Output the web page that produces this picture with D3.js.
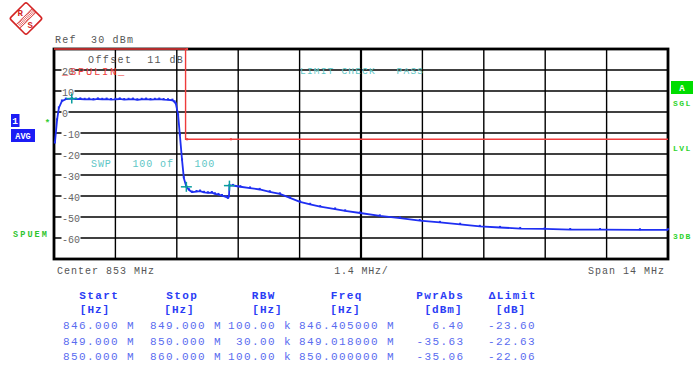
<!DOCTYPE html>
<html><head><meta charset="utf-8">
<script src="https://cdn.jsdelivr.net/npm/d3@7"></script>
<style>
html,body{margin:0;padding:0;background:#fff;}
svg{display:block;}
text{font-family:"Liberation Mono","DejaVu Sans Mono",monospace;white-space:pre;}
</style></head><body>
<svg id="c" width="693" height="367"></svg>
<script>
// ---- data ----
const traceFreq = [846.02, 846.07, 846.11, 846.18, 846.27, 846.405, 846.5, 846.6, 846.7, 846.8, 846.9, 847.0, 847.1, 847.2, 847.3, 847.4, 847.5, 847.6, 847.7, 847.8, 847.9, 848.0, 848.1, 848.2, 848.3, 848.4, 848.5, 848.6, 848.7, 848.75, 848.78, 848.83, 848.87, 848.92, 848.96, 849.018, 849.08, 849.15, 849.25, 849.33, 849.42, 849.51, 849.6, 849.67, 849.75, 849.83, 849.92, 849.97, 849.99, 850.0, 850.08, 850.25, 850.47, 850.69, 850.92, 851.15, 851.38, 851.61, 851.84, 852.07, 852.41, 852.64, 852.98, 853.43, 853.89, 854.34, 854.8, 855.26, 855.71, 856.17, 856.63, 857.19, 857.77, 858.45, 859.36, 860.0];
const traceLevel = [-14.8, -3.8, 1.9, 5.2, 6.1, 6.4, 6.1, 6.2, 6.0, 6.1, 5.9, 6.2, 6.0, 6.1, 5.9, 6.0, 6.2, 5.9, 6.0, 6.1, 5.8, 6.0, 6.1, 5.9, 6.0, 6.1, 5.9, 5.8, 5.6, 4.8, 3.8, -1.4, -11.0, -22.9, -31.4, -35.63, -37.1, -38.2, -37.9, -37.7, -38.3, -38.5, -38.4, -39.0, -39.3, -39.8, -40.4, -41.0, -40.2, -35.06, -35.0, -35.6, -36.2, -36.9, -38.0, -39.0, -40.9, -42.8, -44.0, -45.1, -46.2, -47.1, -48.1, -49.5, -50.5, -51.7, -52.6, -53.5, -54.5, -55.0, -55.5, -55.7, -56.0, -56.0, -56.1, -56.1];
const limitFreq = [846, 849, 849, 850, 860];
const limitLevel = [30, 30, -13, -13, -13];
const markerFreq = [846.405, 849.018, 850.0];
const markerLevel = [6.40, -35.63, -35.06];
const yTickValues = [20, 10, 0, -10, -20, -30, -40, -50, -60];
const yTickLabels = ["20", "10", "0", "-10", "-20", "-30", "-40", "-50", "-60"];
const tableHeaders = ["Start", "Stop", "RBW", "Freq", "PwrAbs", "\u0394Limit"];
const tableUnits = ["[Hz]", "[Hz]", "[Hz]", "[Hz]", "[dBm]", "[dB]"];
const tableStart = ["846.000 M", "849.000 M", "850.000 M"];
const tableStop = ["849.000 M", "850.000 M", "860.000 M"];
const tableRbw = ["100.00 k", "30.00 k", "100.00 k"];
const tableFreq = ["846.405000 M", "849.018000 M", "850.000000 M"];
const tablePwr = ["6.40", "-35.63", "-35.06"];
const tableDelta = ["-23.60", "-22.63", "-22.06"];

// ---- layout ----
const svg = d3.select("#c");
const L = 54, R = 668, TOP = 49, BOT = 259;
const x = d3.scaleLinear().domain([846, 860]).range([L, R]);
const y = d3.scaleLinear().domain([-70, 30]).range([BOT, TOP]);

function T(g, tx, ty, s, o = {}) {
  const size = o.size || 10, pitch = o.pitch || size * 0.6;
  const n = [...s].length;
  const w = (n - 1) * pitch + size * 0.6;
  let x0 = tx;
  if (o.anchor === "middle") x0 = tx - w / 2;
  else if (o.anchor === "end") x0 = tx - w;
  return g.append("text").attr("x", x0).attr("y", ty).attr("font-size", size)
    .attr("letter-spacing", (pitch - size * 0.6).toFixed(2))
    .attr("fill", o.fill || "#555").attr("font-weight", o.weight || "normal").text(s);
}

// R&S logo
const logo = svg.append("g").attr("transform", "translate(26,18.5) rotate(45)");
logo.append("rect").attr("x", -11.6).attr("y", -11.6).attr("width", 23.2).attr("height", 23.2)
  .attr("rx", 2).attr("fill", "#fff").attr("stroke", "#d42424").attr("stroke-width", 1.6);
logo.append("rect").attr("x", -2.6).attr("y", -11.6).attr("width", 5.2).attr("height", 23.2)
  .attr("fill", "none").attr("stroke", "#d42424").attr("stroke-width", 0.8);
for (let k = -10; k <= 10; k += 1.6) {
  logo.append("line").attr("x1", -2.6).attr("x2", 2.6).attr("y1", k).attr("y2", k)
    .attr("stroke", "#d42424").attr("stroke-width", 0.7);
}
svg.append("text").attr("x", 17.5).attr("y", 16).attr("font-size", 9).attr("font-weight", "bold")
  .attr("fill", "#d42424").attr("font-family", "Liberation Serif").text("R");
svg.append("text").attr("x", 27.5).attr("y", 27.5).attr("font-size", 9).attr("font-weight", "bold")
  .attr("fill", "#d42424").attr("font-family", "Liberation Serif").text("S");

// top labels
T(svg, 55, 42.5, "Ref  30 dBm", { size: 10, pitch: 7.2, fill: "#555" });

// plot background
svg.append("rect").attr("x", L).attr("y", TOP).attr("width", R - L).attr("height", BOT - TOP).attr("fill", "#fff");

// grid
const grid = svg.append("g");
const xGrid = d3.range(0, 11).map(i => 846 + i * 1.4);
xGrid.forEach((f, i) => {
  grid.append("line").attr("x1", x(f)).attr("x2", x(f)).attr("y1", TOP).attr("y2", BOT)
    .attr("stroke", "#000").attr("stroke-width", i === 5 ? 2.2 : 1.4);
});
d3.range(-70, 31, 10).forEach(v => {
  grid.append("line").attr("x1", L).attr("x2", R).attr("y1", y(v)).attr("y2", y(v))
    .attr("stroke", "#000").attr("stroke-width", 1.4);
});

// y tick labels (inside plot)
yTickValues.forEach((v, i) => {
  const s = yTickLabels[i];
  const gy = y(v);
  svg.append("rect").attr("x", 61.5).attr("y", gy - 4).attr("width", s.length * 6 + 1).attr("height", 10).attr("fill", "#fff");
  T(svg, 62, gy + 4.8, s, { size: 10, pitch: 6, fill: "#666" });
});

// inner texts
T(svg, 88, 62.5, "Offset  11 dB", { size: 10, pitch: 7.4, fill: "#555" });
T(svg, 62, 75, "_SPULIN_", { size: 10.5, pitch: 8, fill: "#ee4040" });
T(svg, 300, 73.5, "LIMIT CHECK   PASS", { size: 9.5, pitch: 6.9, fill: "#5ec6c6" });
T(svg, 91, 166.5, "SWP   100 of   100", { size: 10, pitch: 6.9, fill: "#5ec6c6" });

// frame
svg.append("rect").attr("x", L).attr("y", TOP).attr("width", R - L).attr("height", BOT - TOP)
  .attr("fill", "none").attr("stroke", "#000").attr("stroke-width", 2.8);

// limit line
const limLine = d3.line().x((d, i) => x(limitFreq[i])).y((d, i) => y(limitLevel[i]));
svg.append("path").datum(limitFreq).attr("d", limLine).attr("fill", "none")
  .attr("stroke", "#ee3b3b").attr("stroke-width", 1.4);
limitFreq.slice(1, -1).forEach((f, i) => {
  svg.append("rect").attr("x", x(f) + 0.5).attr("y", y(limitLevel[i + 1]) - 1).attr("width", 2).attr("height", 2).attr("fill", "#ee3b3b");
});

// trace
const trLine = d3.line().x((d, i) => x(traceFreq[i])).y((d, i) => y(traceLevel[i]));
svg.append("path").datum(traceFreq).attr("d", trLine).attr("fill", "none")
  .attr("stroke", "#1f2ff2").attr("stroke-width", 1.8).attr("stroke-linejoin", "round");
svg.append("g").selectAll("rect").data(traceFreq).join("rect")
  .attr("x", (d) => x(d) - 1).attr("y", (d, i) => y(traceLevel[i]) - 1.6)
  .attr("width", 2).attr("height", 2).attr("fill", "#1f2ff2");

// markers
markerFreq.forEach((f, i) => {
  const mx = x(f), my = y(markerLevel[i]);
  svg.append("line").attr("x1", mx - 5.5).attr("x2", mx + 5.5).attr("y1", my).attr("y2", my)
    .attr("stroke", "#0a9e9e").attr("stroke-width", 1.5);
  svg.append("line").attr("x1", mx).attr("x2", mx).attr("y1", my - 5).attr("y2", my + 5)
    .attr("stroke", "#0a9e9e").attr("stroke-width", 1.5);
});

// left annotations
svg.append("rect").attr("x", 11).attr("y", 114).attr("width", 8.5).attr("height", 13).attr("fill", "#1c1cf5");
svg.append("text").attr("x", 15.2).attr("y", 124).attr("font-size", 9.5).attr("font-weight", "bold")
  .attr("text-anchor", "middle").attr("fill", "#fff").text("1");
svg.append("rect").attr("x", 11).attr("y", 129).attr("width", 24).attr("height", 13).attr("fill", "#1c1cf5");
svg.append("text").attr("x", 23).attr("y", 138.8).attr("font-size", 8.5).attr("font-weight", "bold")
  .attr("text-anchor", "middle").attr("fill", "#fff").text("AVG");
svg.append("text").attr("x", 47.5).attr("y", 126).attr("font-size", 9).attr("font-weight", "bold")
  .attr("text-anchor", "middle").attr("fill", "#33cc33").text("*");
T(svg, 13, 236.5, "SPUEM", { size: 8.5, pitch: 7.2, weight: "bold", fill: "#2ec42e" });

// right annotations
svg.append("rect").attr("x", 671).attr("y", 81).attr("width", 22).attr("height", 13).attr("fill", "#00dd00");
svg.append("text").attr("x", 682).attr("y", 91).attr("font-size", 9).attr("font-weight", "bold")
  .attr("text-anchor", "middle").attr("fill", "#fff").text("A");
T(svg, 673, 106, "SGL", { size: 8, pitch: 6.3, weight: "bold", fill: "#2ed42e" });
T(svg, 673, 150.5, "LVL", { size: 8, pitch: 6.3, weight: "bold", fill: "#2ed42e" });
T(svg, 673, 239, "3DB", { size: 8, pitch: 6.3, weight: "bold", fill: "#2ed42e" });

// bottom labels
T(svg, 57, 273.5, "Center 853 MHz", { size: 10, pitch: 7, fill: "#555" });
T(svg, 361, 273.5, "1.4 MHz/", { size: 10, pitch: 6.8, fill: "#555", anchor: "middle" });
T(svg, 588, 273.5, "Span 14 MHz", { size: 10, pitch: 7, fill: "#555" });

// table
const hdrC = "#2a3cf5", datC = "#5a6cf0";
const hdrX = [98.5, 181.5, 263, 346, 439.5, 512];
const unitX = [94.5, 179, 267, 345, 443, 510.5];
tableHeaders.forEach((h, i) => T(svg, hdrX[i], 299, h, { size: 11, pitch: 8, weight: "bold", fill: hdrC, anchor: "middle" }));
tableUnits.forEach((h, i) => T(svg, unitX[i], 313, h, { size: 11, pitch: 7.6, weight: "bold", fill: hdrC, anchor: "middle" }));
const rowY = [328.5, 344.5, 360];
rowY.forEach((ry, r) => {
  T(svg, 63, ry, tableStart[r], { size: 11, pitch: 8, fill: datC });
  T(svg, 150, ry, tableStop[r], { size: 11, pitch: 8, fill: datC });
  T(svg, 290.6, ry, tableRbw[r], { size: 11, pitch: 8, fill: datC, anchor: "end" });
  T(svg, 299, ry, tableFreq[r], { size: 11, pitch: 8, fill: datC });
  T(svg, 463, ry, tablePwr[r], { size: 11, pitch: 8, fill: datC, anchor: "end" });
  T(svg, 488, ry, tableDelta[r], { size: 11, pitch: 8, fill: datC });
});
</script>
</body></html>
